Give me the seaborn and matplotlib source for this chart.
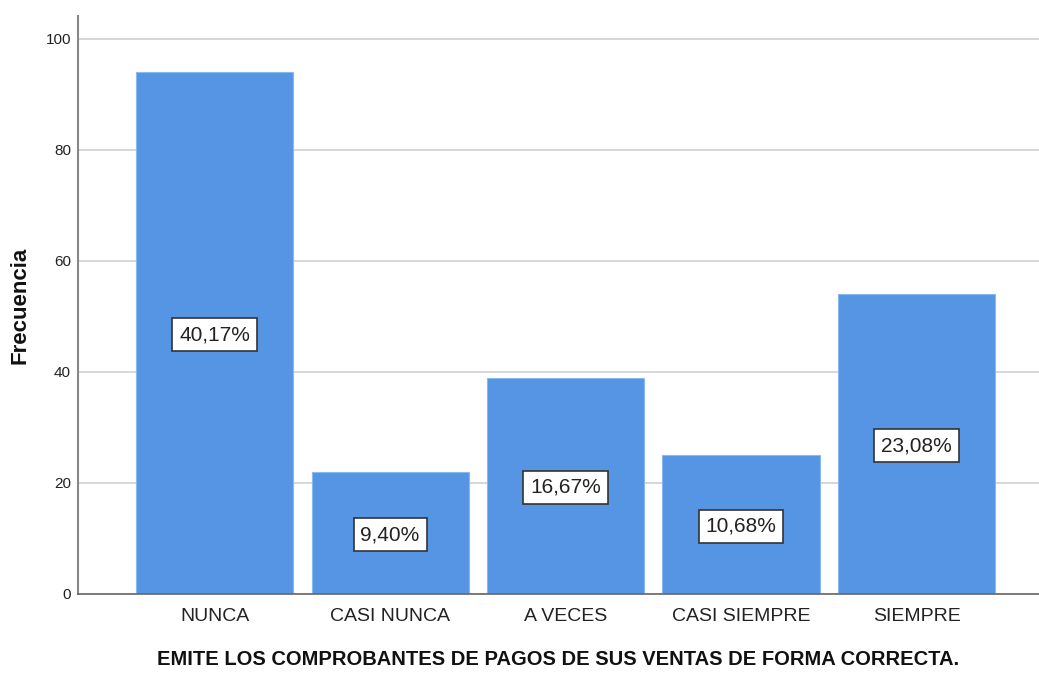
import pandas as pd
import matplotlib.pyplot as plt
import seaborn as sns

categorias = ["NUNCA", "CASI NUNCA", "A VECES", "CASI SIEMPRE", "SIEMPRE"]
frecuencias = [94, 22, 39, 25, 54]
porcentajes = ["40,17%", "9,40%", "16,67%", "10,68%", "23,08%"]
yticks = [0, 20, 40, 60, 80, 100]

df = pd.DataFrame({"categoria": categorias, "frecuencia": frecuencias})

sns.set_theme(style="white")
plt.rcParams["font.family"] = ["Liberation Sans", "DejaVu Sans"]

fig = plt.figure(figsize=(10.39, 6.73), dpi=100)
ax = fig.add_axes([0.0751, 0.1174, 0.9249, 0.8586])

sns.barplot(data=df, x="categoria", y="frecuencia", color="#5595e3",
            saturation=1, width=0.895, edgecolor="#8ab8f0", linewidth=0.8,
            ax=ax, zorder=2)

# etiquetas de porcentaje en el centro de cada barra
for i, (v, txt) in enumerate(zip(frecuencias, porcentajes)):
    ax.text(i, v / 2 - 0.3, txt, ha="center", va="center", fontsize=15,
            color="#222222", zorder=3,
            bbox=dict(boxstyle="square,pad=0.33", fc="white", ec="#333333", lw=1.2))

ax.set_ylim(0, 104.1)
ax.set_xlim(-0.778, 4.698)
ax.set_yticks(yticks)
ax.yaxis.grid(True, color="#d4d4d4", linewidth=1.3, zorder=0)
ax.set_axisbelow(True)

for s in ["top", "right"]:
    ax.spines[s].set_visible(False)
ax.spines["left"].set_color("#888888")
ax.spines["left"].set_linewidth(1.5)
ax.spines["bottom"].set_color("#666666")
ax.spines["bottom"].set_linewidth(1.2)

ax.tick_params(axis="y", labelsize=11, colors="#222222", length=3, width=1,
               color="#888888", pad=2)
ax.tick_params(axis="x", labelsize=14, colors="#222222", length=0, pad=10)

ax.set_ylabel("Frecuencia", fontsize=16, fontweight="bold", color="#111111",
              labelpad=11)
ax.set_xlabel("EMITE LOS COMPROBANTES DE PAGOS DE SUS VENTAS DE FORMA CORRECTA.",
              fontsize=14.5, fontweight="bold", color="#111111", labelpad=18)

fig.savefig("out.png", dpi=100)
